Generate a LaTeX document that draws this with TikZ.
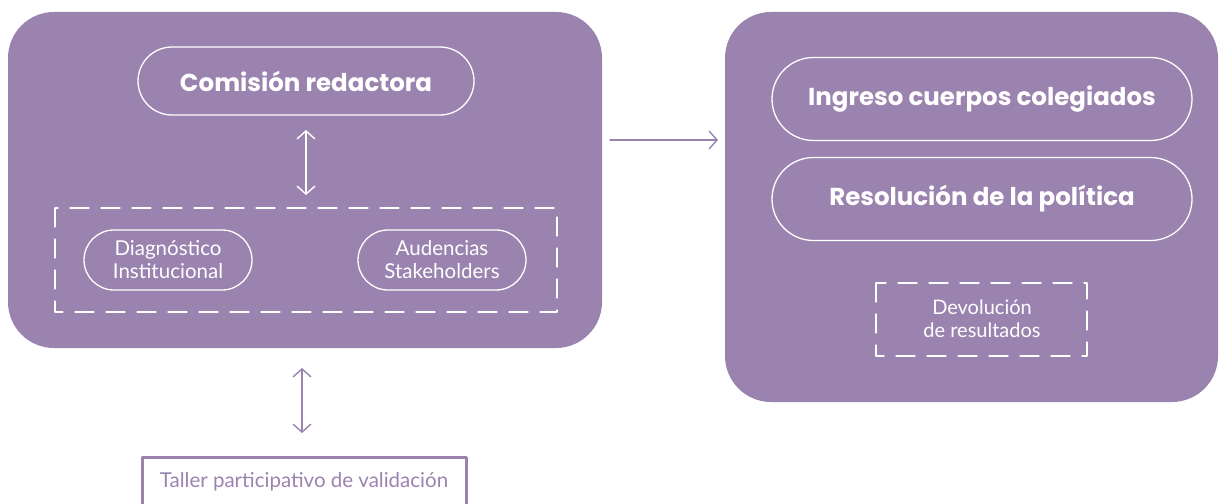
\documentclass[tikz,border=0pt]{standalone}
\usepackage{fontspec}
\setmainfont{Lato}
\newfontfamily\gruesa{Poppins}
\usetikzlibrary{shapes.misc,arrows.meta}
\definecolor{lila}{HTML}{9B83B0}
\tikzset{
	panel/.style={fill=lila, rounded corners=46pt},
	pill/.style={rounded rectangle, draw=white, line width=1.3pt, text=white, inner sep=0pt},
	grande/.style={pill, font=\gruesa\fontsize{24.5}{28}\selectfont\bfseries},
	chica/.style={pill, align=center, minimum width=168pt, minimum height=60pt, font=\fontsize{20.5}{23}\selectfont},
	caja/.style={draw=white, line width=1.3pt, dash pattern=on 19pt off 12pt},
	flecha/.style={line width=1.4pt, {Straight Barb[length=8pt,width=18pt]}-{Straight Barb[length=8pt,width=18pt]}}
}
\begin{document}
\begin{tikzpicture}[x=1pt, y=-1pt, line join=round, line cap=round]
	\useasboundingbox (0,0) rectangle (1228,503);
	% paneles
	\fill[panel] (8,12) rectangle (602,348);
	\fill[panel] (725,12) rectangle (1218,402);
	% izquierda
	\node[grande, minimum width=336pt, minimum height=68pt] (com) at (306,81) {Comisión redactora};
	\draw[caja] (55,208) rectangle (557,312);
	\node[chica] (diag) at (168,260) {Diagnóstico\\Institucional};
	\node[chica] (aud) at (442,260) {Audencias\\Stakeholders};
	\coordinate (g1) at (306,130);
	\coordinate (g2) at (306,195);
	\draw[flecha, white] (g1) -- (g2);
	% taller
	\node[draw=lila, line width=3pt, minimum width=324pt, minimum height=80pt, anchor=north] (tall) at (304,456) {};
	\node[text=lila, font=\fontsize{20.5}{23}\selectfont] (ttxt) at (tall.north) [yshift=-26pt] {Taller participativo de validación};
	\coordinate (t1) at (302,368);
	\coordinate (t2) at (302,433);
	\draw[flecha, lila] (t1) -- (t2);
	% derecha
	\coordinate (a1) at (610,140);
	\coordinate (a2) at (718,140);
	\draw[line width=1.4pt, lila, -{Straight Barb[length=8pt,width=18pt]}] (a1) -- (a2);
	\node[grande, minimum width=420pt, minimum height=83pt] (ing) at (982,99) {Ingreso cuerpos colegiados};
	\node[grande, minimum width=420pt, minimum height=83pt] (res) at (982,199) {Resolución de la política};
	\draw[caja] (876,283) rectangle (1087,356);
	\node[text=white, align=center, font=\fontsize{20}{23}\selectfont] (dev) at (982,319) {Devolución\\de resultados};
\end{tikzpicture}
\end{document}
